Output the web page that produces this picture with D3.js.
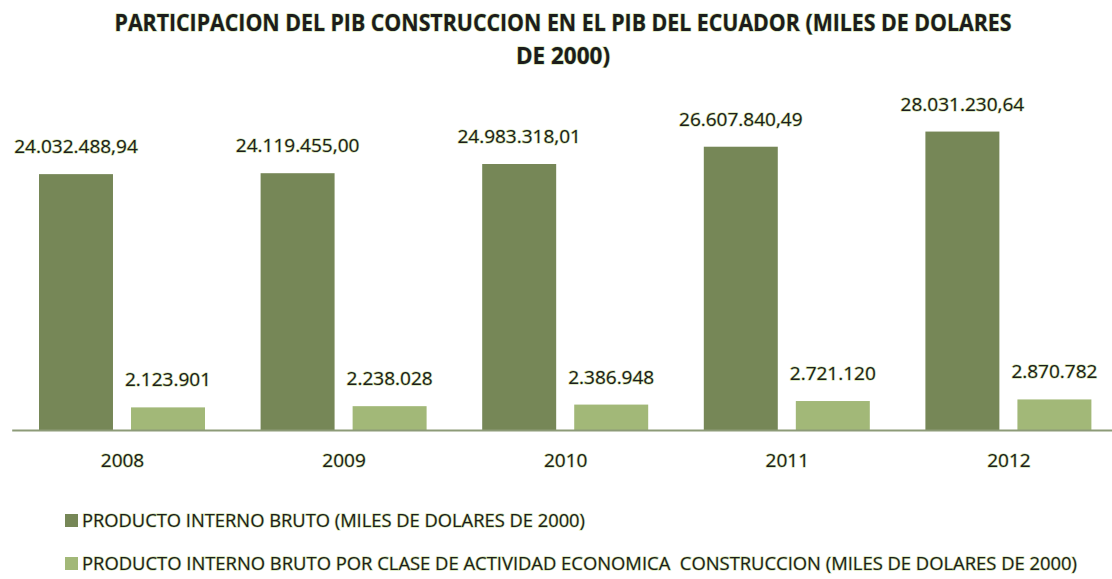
<!DOCTYPE html>
<html>
<head>
<meta charset="utf-8">
<script src="https://cdn.jsdelivr.net/npm/d3@7"></script>
<style>
  body { margin: 0; background: #fff; }
  svg { display: block; font-family: "Open Sans", "Noto Sans", sans-serif; }
  .lbl { fill: #1c1c1c; stroke: #c9dca0; stroke-width: 1.2px; paint-order: stroke; white-space: pre; }
</style>
</head>
<body>
<svg width="1112" height="579"></svg>
<script>
// data
var years = ["2008", "2009", "2010", "2011", "2012"];
var pib = [24032488.94, 24119455.00, 24983318.01, 26607840.49, 28031230.64];
var pibConstruccion = [2123901, 2238028, 2386948, 2721120, 2870782];
var pibLabels = ["24.032.488,94", "24.119.455,00", "24.983.318,01", "26.607.840,49", "28.031.230,64"];
var construccionLabels = ["2.123.901", "2.238.028", "2.386.948", "2.721.120", "2.870.782"];
var seriesNames = [
  "PRODUCTO INTERNO BRUTO (MILES DE DOLARES DE 2000)",
  "PRODUCTO INTERNO BRUTO POR CLASE DE ACTIVIDAD ECONOMICA  CONSTRUCCION (MILES DE DOLARES DE 2000)"
];
var seriesColors = ["#768757", "#a2b878"];

var svg = d3.select("svg");

//build rows so each year has both bars
var rows = years.map(function(y, i) {
  return {
    year: y,
    values: [
      { key: 0, value: pib[i], label: pibLabels[i] },
      { key: 1, value: pibConstruccion[i], label: construccionLabels[i] }
    ]
  };
});

var baseY = 430;

var x0 = d3.scaleBand()
  .domain(years)
  .range([11.7, 1119.7])
  .paddingInner(0);

var x1 = d3.scaleBand()
  .domain([0, 1])
  .range([27.3, 193.3])
  .paddingInner(0.196);

var y = d3.scaleLinear()
  .domain([0, 30000000])
  .range([baseY, 110.6]);

//title, squeezed to look like the condensed bold original
svg.append("text")
  .attr("x", 563).attr("y", 31)
  .attr("text-anchor", "middle")
  .attr("textLength", 897)
  .attr("lengthAdjust", "spacingAndGlyphs")
  .attr("class", "lbl")
  .style("font-weight", "bold")
  .style("font-size", "23px")
  .text("PARTICIPACION DEL PIB CONSTRUCCION EN EL PIB DEL ECUADOR (MILES DE DOLARES");

svg.append("text")
  .attr("x", 563).attr("y", 64)
  .attr("text-anchor", "middle")
  .attr("textLength", 94)
  .attr("lengthAdjust", "spacingAndGlyphs")
  .attr("class", "lbl")
  .style("font-weight", "bold")
  .style("font-size", "23px")
  .text("DE 2000)");

var groups = svg.append("g").selectAll("g.year")
  .data(rows)
  .enter()
  .append("g")
  .attr("class", "year")
  .attr("transform", function(d) { return "translate(" + x0(d.year) + ",0)"; });

groups.selectAll("rect")
  .data(function(d) { return d.values; })
  .enter()
  .append("rect")
  .attr("x", function(d) { return x1(d.key); })
  .attr("y", function(d) { return y(d.value); })
  .attr("width", x1.bandwidth())
  .attr("height", function(d) { return baseY - y(d.value); })
  .attr("fill", function(d) { return seriesColors[d.key]; });

groups.selectAll("text.val")
  .data(function(d) { return d.values; })
  .enter()
  .append("text")
  .attr("class", "val lbl")
  .attr("x", function(d) { return x1(d.key) + x1.bandwidth() / 2; })
  .attr("y", function(d) { return y(d.value) - 21; })
  .attr("text-anchor", "middle")
  .style("font-size", "19px")
  .text(function(d) { return d.label; });

//category axis
var axis = svg.append("g")
  .attr("transform", "translate(0," + baseY + ")")
  .call(d3.axisBottom(x0).tickSize(0).tickPadding(24).tickSizeOuter(0));

axis.select(".domain")
  .attr("stroke", "#8d9b78")
  .attr("stroke-width", 2);

axis.selectAll(".tick text")
  .attr("class", "lbl")
  .attr("dy", "0.71em")
  .style("font-family", "'Open Sans', 'Noto Sans', sans-serif")
  .style("font-size", "19px")
  .attr("fill", "#1c1c1c");

//legend
var legendY = [520, 563];
var legendLen = [503, 995];

var legend = svg.append("g").selectAll("g")
  .data(seriesNames)
  .enter()
  .append("g")
  .attr("transform", function(d, i) { return "translate(65," + legendY[i] + ")"; });

legend.append("rect")
  .attr("x", 0).attr("y", -6)
  .attr("width", 13).attr("height", 13)
  .attr("fill", function(d, i) { return seriesColors[i]; });

legend.append("text")
  .attr("class", "lbl")
  .attr("x", 17).attr("y", 7)
  .attr("textLength", function(d, i) { return legendLen[i]; })
  .attr("lengthAdjust", "spacingAndGlyphs")
  .style("font-size", "19px")
  .text(function(d) { return d; });
</script>
</body>
</html>
